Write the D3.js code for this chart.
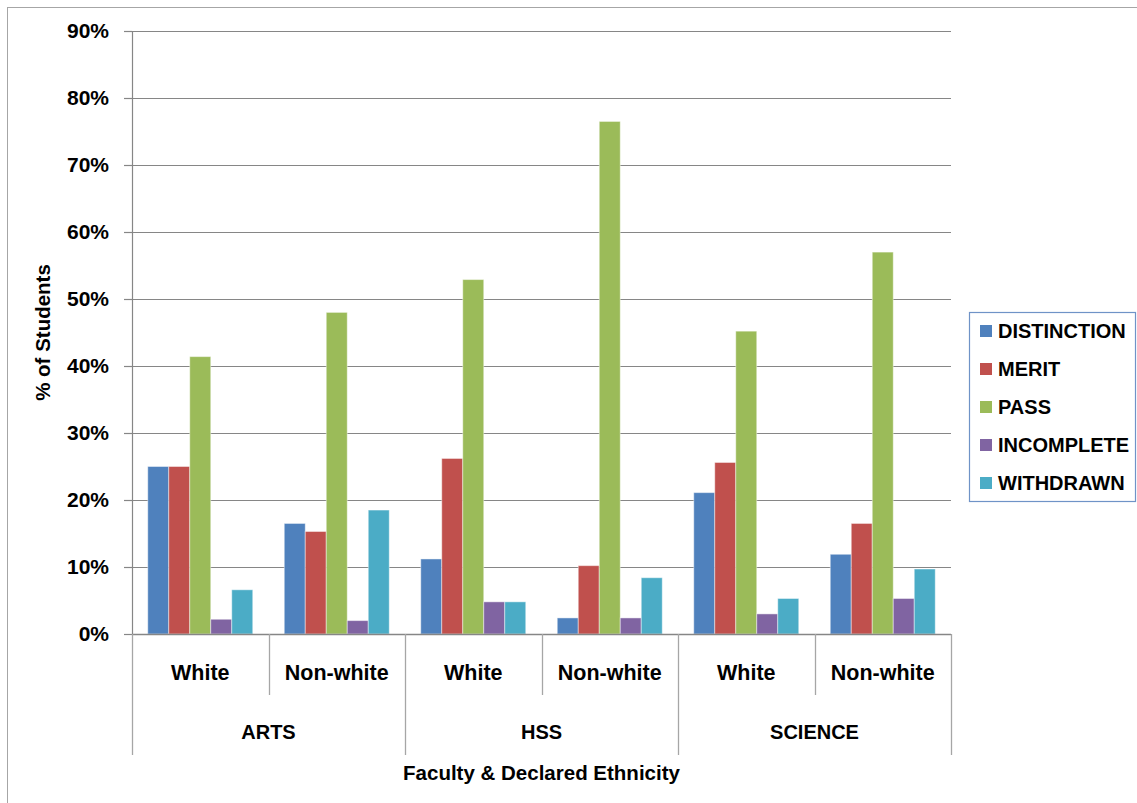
<!DOCTYPE html>
<html>
<head>
<meta charset="utf-8">
<script src="https://cdn.jsdelivr.net/npm/d3@7"></script>
<style>
  html, body { margin: 0; padding: 0; background: #fff; }
  svg { display: block; }
  text { font-family: "Liberation Sans", Arial, sans-serif; font-weight: bold; fill: #000; }
</style>
</head>
<body>
<svg id="chart" width="1137" height="803"></svg>
<script>
// ---- data ----
const faculties = ["ARTS", "HSS", "SCIENCE"];
const ethnicities = ["White", "Non-white"];
const seriesNames = ["DISTINCTION", "MERIT", "PASS", "INCOMPLETE", "WITHDRAWN"];
const seriesColors = ["#4F81BD", "#C0504D", "#9BBB59", "#8064A2", "#4BACC6"];
// values in order: ARTS-White, ARTS-Non-white, HSS-White, HSS-Non-white, SCIENCE-White, SCIENCE-Non-white
const distinction = [0.250, 0.165, 0.112, 0.024, 0.211, 0.119];
const merit       = [0.250, 0.153, 0.262, 0.102, 0.256, 0.165];
const pass        = [0.414, 0.480, 0.529, 0.765, 0.452, 0.570];
const incomplete  = [0.022, 0.020, 0.048, 0.024, 0.030, 0.053];
const withdrawn   = [0.066, 0.185, 0.048, 0.084, 0.053, 0.097];
const yTicks = [0, 0.1, 0.2, 0.3, 0.4, 0.5, 0.6, 0.7, 0.8, 0.9];
const yTitle = "% of Students";
const xTitle = "Faculty & Declared Ethnicity";

(function () {
const seriesValues = [distinction, merit, pass, incomplete, withdrawn];
const groups = [];
faculties.forEach(f => ethnicities.forEach(e => groups.push(f + "|" + e)));

// ---- layout ----
const svg = d3.select("#chart");
const pLeft = 132, pRight = 951, pTop = 31, pBottom = 634;

// outer chart border
svg.append("rect").attr("x", 7.5).attr("y", 7.5).attr("width", 1160).attr("height", 820)
  .attr("fill", "none").attr("stroke", "#A6A6A6").attr("stroke-width", 1);

const x0 = d3.scaleBand().domain(groups).range([pLeft, pRight]).paddingInner(0).paddingOuter(0);
const x1 = d3.scaleBand().domain(seriesNames).range([0, x0.bandwidth()]).paddingInner(0).paddingOuter(0.75);
const xF = d3.scaleBand().domain(faculties).range([pLeft, pRight]);
const y = d3.scaleLinear().domain([0, 0.9]).range([pBottom, pTop]);

// gridlines
svg.append("g").selectAll("line").data(yTicks).join("line")
  .attr("x1", pLeft).attr("x2", pRight)
  .attr("y1", d => Math.round(y(d)) + 0.5).attr("y2", d => Math.round(y(d)) + 0.5)
  .attr("stroke", "#868686").attr("stroke-width", 1.2);

// y axis
const yAxis = svg.append("g").attr("transform", `translate(${pLeft},0)`)
  .call(d3.axisLeft(y).tickValues(yTicks).tickFormat(d3.format(".0%")).tickSize(8).tickPadding(15));
yAxis.select(".domain").attr("stroke", "#868686").attr("stroke-width", 1.2);
yAxis.selectAll(".tick line").attr("stroke", "#868686").attr("stroke-width", 1.2);
yAxis.selectAll(".tick text").attr("font-size", 21).attr("font-family", "Liberation Sans, Arial, sans-serif")
  .attr("font-weight", "bold").attr("fill", "#000");

// bars
const barG = svg.append("g");
seriesNames.forEach((s, si) => {
  barG.append("g").selectAll("rect").data(seriesValues[si]).join("rect")
    .attr("x", (d, i) => x0(groups[i]) + x1(s))
    .attr("width", x1.bandwidth())
    .attr("y", d => y(d))
    .attr("height", d => y(0) - y(d))
    .attr("fill", seriesColors[si])
    .attr("stroke", "rgba(255,255,255,0.45)")
    .attr("stroke-width", 1);
});

// bottom axis line
svg.append("line").attr("x1", pLeft).attr("x2", pRight).attr("y1", pBottom + 0.5).attr("y2", pBottom + 0.5)
  .attr("stroke", "#868686").attr("stroke-width", 1.4);

// category separators
const lineColor = "#A6A6A6";
groups.forEach((g, i) => {
  if (i % 2 === 1) {
    const xx = Math.round(x0(g)) + 0.5;
    svg.append("line").attr("x1", xx).attr("x2", xx).attr("y1", pBottom).attr("y2", 695)
      .attr("stroke", lineColor).attr("stroke-width", 1.3);
  }
});
faculties.concat(["__end"]).forEach((f, i) => {
  const xx = (i < faculties.length ? Math.round(xF(f)) : pRight) + 0.5;
  svg.append("line").attr("x1", xx).attr("x2", xx).attr("y1", pBottom).attr("y2", 755)
    .attr("stroke", lineColor).attr("stroke-width", 1.3);
});

// level-1 labels
svg.append("g").selectAll("text").data(groups).join("text")
  .attr("x", d => x0(d) + x0.bandwidth() / 2)
  .attr("y", 680)
  .attr("text-anchor", "middle").attr("font-size", 21.5)
  .text(d => d.split("|")[1]);

// level-2 labels
svg.append("g").selectAll("text").data(faculties).join("text")
  .attr("x", d => xF(d) + xF.bandwidth() / 2)
  .attr("y", 739)
  .attr("text-anchor", "middle").attr("font-size", 20)
  .text(d => d);

// axis titles
svg.append("text").attr("x", (pLeft + pRight) / 2).attr("y", 780)
  .attr("text-anchor", "middle").attr("font-size", 20.5).text(xTitle);
svg.append("text").attr("transform", `translate(50,${(pTop + pBottom) / 2}) rotate(-90)`)
  .attr("text-anchor", "middle").attr("font-size", 20.5).text(yTitle);

// legend
const lg = svg.append("g");
lg.append("rect").attr("x", 969.5).attr("y", 312.5).attr("width", 166).attr("height", 189)
  .attr("fill", "#fff").attr("stroke", "#6F93C7").attr("stroke-width", 1.2);
seriesNames.forEach((s, i) => {
  const cy = 331 + i * 38;
  lg.append("rect").attr("x", 980).attr("y", cy - 6).attr("width", 12).attr("height", 12)
    .attr("fill", seriesColors[i]);
  lg.append("text").attr("x", 998).attr("y", cy + 7).attr("font-size", 20).text(s);
});
})();
</script>
</body>
</html>
